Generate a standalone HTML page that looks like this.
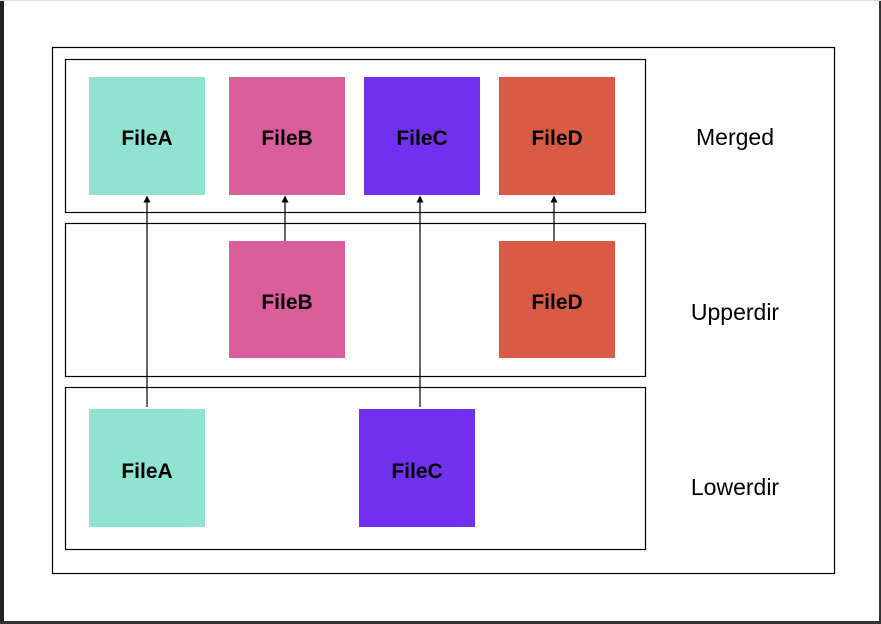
<!DOCTYPE html>
<html><head><meta charset="utf-8"><style>
html,body{margin:0;padding:0;background:#fff;}
body{width:881px;height:624px;overflow:hidden;position:relative;}
</style></head><body>
<svg width="881" height="624" xmlns="http://www.w3.org/2000/svg" style="position:absolute;left:0;top:0">
<defs><marker id="ah" markerWidth="7" markerHeight="7" refX="3.5" refY="3.5" orient="auto" markerUnits="userSpaceOnUse"><path d="M0,0 L7,3.5 L0,7 z" fill="#000"/></marker></defs>
<rect x="0" y="0" width="881" height="624" fill="#fff"/>
<rect x="0" y="0" width="4" height="624" fill="#222"/>
<rect x="0" y="621" width="881" height="3" fill="#333"/>
<rect x="879" y="0" width="2" height="624" fill="#333"/>
<rect x="0" y="0" width="881" height="1" fill="#ddd"/>
<g fill="none" stroke="#000" stroke-width="1.2">
<rect x="52.5" y="47.5" width="782" height="526"/>
<rect x="65.5" y="59.5" width="580" height="153"/>
<rect x="65.5" y="223.5" width="580" height="153"/>
<rect x="65.5" y="387.5" width="580" height="162"/>
</g>
<g font-family="Liberation Sans, sans-serif" font-weight="bold" font-size="21" text-anchor="middle" fill="#000">
<rect x="89" y="77" width="116" height="118" fill="#8fe3d0"/><text x="147" y="145">FileA</text>
<rect x="229" y="77" width="116" height="118" fill="#da5e9b"/><text x="287" y="145">FileB</text>
<rect x="364" y="77" width="116" height="118" fill="#7231f0"/><text x="422" y="145">FileC</text>
<rect x="499" y="77" width="116" height="118" fill="#d95a45"/><text x="557" y="145">FileD</text>
<rect x="229" y="241" width="116" height="117" fill="#da5e9b"/><text x="287" y="309">FileB</text>
<rect x="499" y="241" width="116" height="117" fill="#d95a45"/><text x="557" y="309">FileD</text>
<rect x="89" y="409" width="116" height="118" fill="#8fe3d0"/><text x="147" y="478">FileA</text>
<rect x="359" y="409" width="116" height="118" fill="#7231f0"/><text x="417" y="478">FileC</text>
</g>
<g stroke="#000" stroke-width="1.2" marker-end="url(#ah)">
<line x1="147" y1="407" x2="147" y2="199"/>
<line x1="285" y1="241" x2="285" y2="199"/>
<line x1="420" y1="407" x2="420" y2="199"/>
<line x1="554" y1="241" x2="554" y2="199"/>
</g>
<g font-family="Liberation Sans, sans-serif" font-size="23" text-anchor="middle" fill="#000">
<text x="735" y="145">Merged</text>
<text x="735" y="320">Upperdir</text>
<text x="735" y="495">Lowerdir</text>
</g>
</svg>
</body></html>
